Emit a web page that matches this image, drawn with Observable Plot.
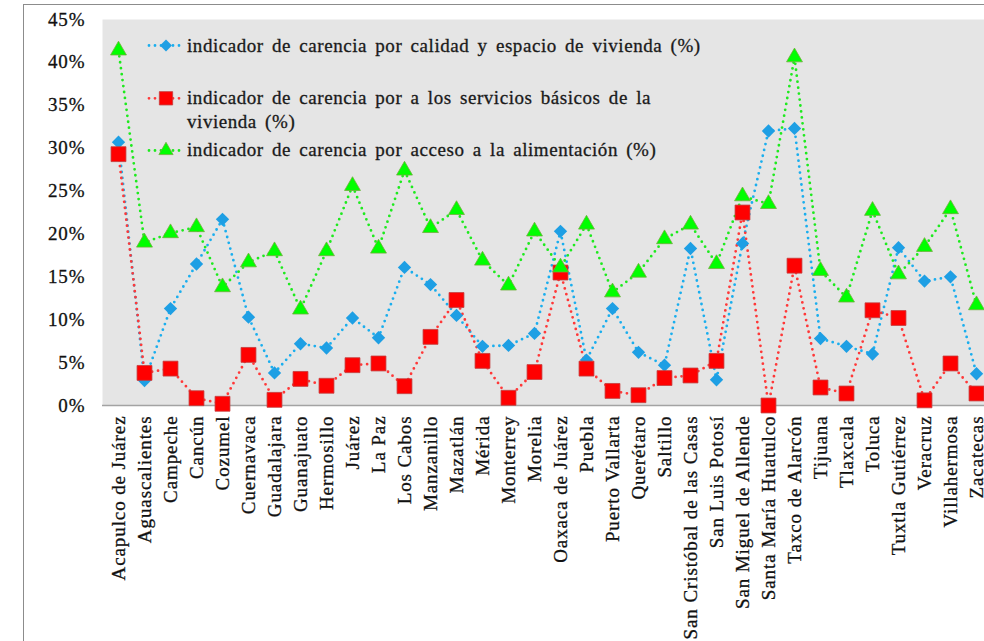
<!DOCTYPE html>
<html>
<head>
<meta charset="utf-8">
<script src="https://cdn.jsdelivr.net/npm/d3@7"></script>
<script src="https://cdn.jsdelivr.net/npm/@observablehq/plot@0.6"></script>
<style>
  html, body { margin: 0; padding: 0; background: #fff; overflow: hidden; width: 984px; height: 641px; }
  #wrap { position: relative; width: 984px; height: 641px; overflow: hidden; }
  #border { position: absolute; left: 23px; top: 4px; width: 1000px; height: 700px; border-left: 1px solid #8c8c8c; border-top: 1.5px solid #8c8c8c; box-sizing: border-box; }
  #chart { position: absolute; left: 0; top: 0; width: 1000px; height: 641px; }
  #chart svg { max-width: none !important; width: 1000px !important; height: 641px !important; }
  #chart svg g[aria-label*="tick label"] { stroke: #111; stroke-width: 0.3px; }
  #legend { position: absolute; left: 0; top: 0; pointer-events: none; }
</style>
</head>
<body>
<div id="wrap">
  <div id="border"></div>
  <div id="chart"></div>
  <svg id="legend" width="984" height="641"></svg>
</div>
<script>
const cities = ["Acapulco de Juárez","Aguascalientes","Campeche","Cancún","Cozumel","Cuernavaca","Guadalajara","Guanajuato","Hermosillo","Juárez","La Paz","Los Cabos","Manzanillo","Mazatlán","Mérida","Monterrey","Morelia","Oaxaca de Juárez","Puebla","Puerto Vallarta","Querétaro","Saltillo","San Cristóbal de las Casas","San Luis Potosí","San Miguel de Allende","Santa María Huatulco","Taxco de Alarcón","Tijuana","Tlaxcala","Toluca","Tuxtla Gutiérrez","Veracruz","Villahermosa","Zacatecas"];

const calidad = [30.7,2.9,11.3,16.5,21.7,10.3,3.8,7.2,6.7,10.2,7.9,16.1,14.1,10.5,6.9,7.0,8.4,20.3,5.3,11.3,6.2,4.7,18.3,3.0,18.9,32.0,32.3,7.8,6.9,6.0,18.4,14.5,15.0,3.7];
const servicios = [29.3,3.8,4.3,0.85,0.2,5.9,0.66,3.1,2.3,4.7,4.9,2.25,8.0,12.3,5.2,0.9,3.9,15.5,4.3,1.7,1.2,3.2,3.5,5.2,22.5,0.0,16.3,2.1,1.4,11.1,10.2,0.6,4.9,1.4];
const alimentacion = [41.4,19.0,20.1,20.8,13.8,16.7,18.0,11.2,18.0,25.6,18.3,27.4,20.7,22.8,16.9,14.0,20.3,16.1,21.1,13.2,15.5,19.4,21.1,16.5,24.4,23.5,40.6,15.7,12.6,22.7,15.3,18.5,22.9,11.7];

const yTicks = [0,5,10,15,20,25,30,35,40,45];

const seriesNames = [
  "indicador de carencia por calidad y espacio de vivienda (%)",
  "indicador de carencia por a los servicios básicos de la vivienda (%)",
  "indicador de carencia por acceso a la alimentación (%)"
];

const FONT = "'Liberation Serif', 'Times New Roman', Times, 'DejaVu Serif', serif";

const series = [
  {name: seriesNames[0], values: calidad, line: "#1AAEEE", fill: "#1E9FE4", stroke: "none", symbol: "diamond2", r: 6},
  {name: seriesNames[1], values: servicios, line: "#FF3838", fill: "#FF0000", stroke: "#C43C3C", symbol: "square", r: 8.4},
  {name: seriesNames[2], values: alimentacion, line: "#1EEA1E", fill: "#00FF00", stroke: "#6FAE3A", symbol: "triangle", r: 5.9}
];

const rows = s => cities.map((c, i) => ({city: c, v: s.values[i]}));

const marks = [
  Plot.frame({fill: "#E5E5E5", stroke: null}),
  Plot.ruleY([0], {stroke: "#A3A3A3", strokeWidth: 1.5})
];
for (const s of series) {
  marks.push(Plot.line(rows(s), {x: "city", y: "v", stroke: s.line, strokeWidth: 2.8, strokeDasharray: "0 6", strokeLinecap: "round"}));
}
for (const s of series) {
  marks.push(Plot.dot(rows(s), {x: "city", y: "v", symbol: () => s.symbol, r: s.r, fill: s.fill, stroke: s.stroke, strokeWidth: 0.8}));
}

const chart = Plot.plot({
  width: 1000,
  height: 641,
  marginLeft: 102,
  marginRight: 9,
  marginTop: 19,
  marginBottom: 236,
  style: {fontFamily: FONT, fontSize: "19px", color: "#111", background: "transparent", letterSpacing: "0.9px", maxWidth: "none"},
  x: {type: "point", domain: cities, range: [115, 978], padding: 0, label: null, tickSize: 0, tickPadding: 10, tickRotate: -90},
  y: {domain: [0, 45], ticks: yTicks, tickFormat: d => d + "%", label: null, tickSize: 0, tickPadding: 17},
  symbol: {type: "identity"},
  marks
});
document.getElementById("chart").appendChild(chart);

// Legend (inside plot area, top-left)
const legendLayout = [
  {lines: ["indicador de carencia por calidad y espacio de vivienda (%)"], cy: 45.5, baseline: 52},
  {lines: ["indicador de carencia por a los servicios básicos de la", "vivienda (%)"], cy: 98.3, baseline: 104},
  {lines: ["indicador de carencia por acceso a la alimentación (%)"], cy: 150.5, baseline: 156}
];
const lg = d3.select("#legend");
legendLayout.forEach((L, i) => {
  const s = series[i];
  lg.append("line").attr("x1", 149).attr("x2", 183).attr("y1", L.cy).attr("y2", L.cy)
    .attr("stroke", s.line).attr("stroke-width", 2.8).attr("stroke-dasharray", "0 6").attr("stroke-linecap", "round");
  const symType = s.symbol === "diamond2" ? d3.symbolDiamond2 : s.symbol === "square" ? d3.symbolSquare : d3.symbolTriangle;
  lg.append("path").attr("d", d3.symbol(symType, Math.PI * s.r * s.r * 0.8)())
    .attr("transform", `translate(166,${L.cy})`)
    .attr("fill", s.fill).attr("stroke", s.stroke).attr("stroke-width", 0.8);
  L.lines.forEach((t, j) => {
    lg.append("text").attr("x", 187).attr("y", L.baseline + j * 24)
      .style("font-family", FONT).attr("font-size", 19)
      .attr("letter-spacing", "0.55px").attr("word-spacing", "3px")
      .attr("stroke", "#1a1a1a").attr("stroke-width", 0.3)
      .attr("fill", "#1a1a1a").text(t);
  });
});
</script>
</body>
</html>
